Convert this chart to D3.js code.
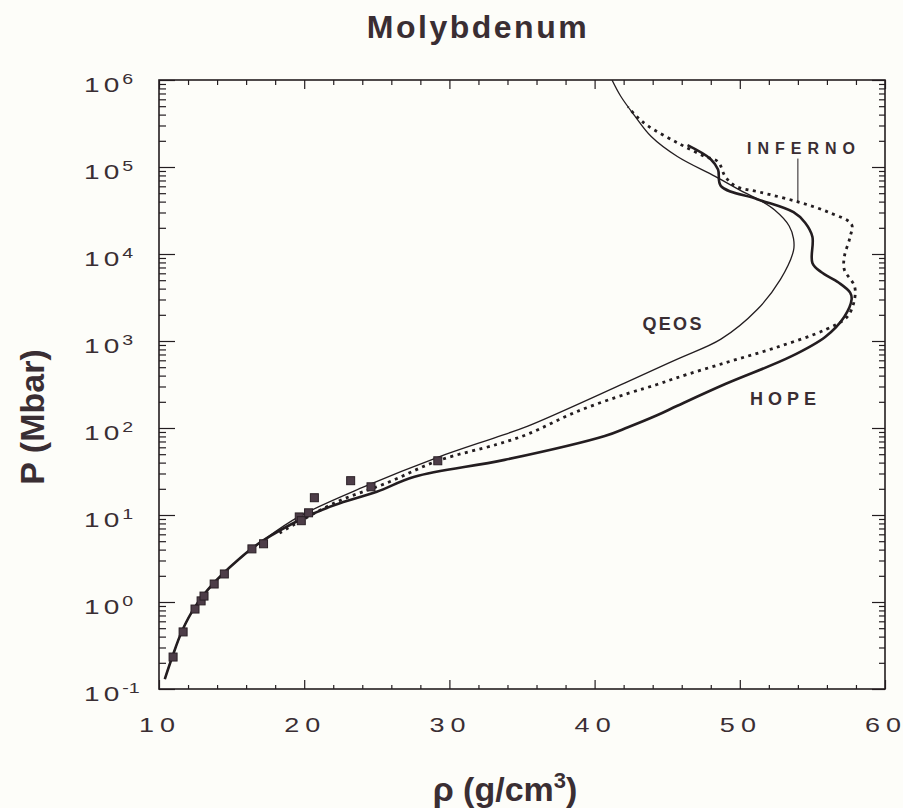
<!DOCTYPE html>
<html>
<head>
<meta charset="utf-8">
<script src="https://cdn.jsdelivr.net/npm/d3@7"></script>
<style>
  body { margin: 0; background: #fdfdf9; }
  svg { display: block; }
  text { font-family: "Liberation Sans", Arial, Helvetica, sans-serif; fill: #3a2e33; }
</style>
</head>
<body>
<svg id="chart" width="903" height="808"></svg>
<script>
// density ticks (g/cm3) and pressure decades (Mbar, as exponents of 10)
const rhoTicks = [10, 20, 30, 40, 50, 60];
const decadeExps = [-1, 0, 1, 2, 3, 4, 5, 6];

// QEOS (thin solid)
const qeosRho = [10.4, 10.9, 11.6, 12.5, 13.7, 15.4, 17.1, 19.6, 24.1, 29.2, 33.3, 35.4, 42.1, 45.7, 48.7, 51.2, 52.8, 53.7, 53.7, 53.4, 52.4, 51.2, 50.3, 48.3, 45.7, 43.9, 42.8, 41.8, 41.2];
const qeosP = [0.13, 0.23, 0.47, 0.89, 1.6, 3.0, 5.0, 9.5, 21, 46, 79, 105, 330, 620, 1050, 2300, 5100, 11000, 15000, 21000, 32000, 43000, 51000, 78000, 132000, 224000, 380000, 650000, 1000000];

// HOPE (thick solid)
const hopeRho = [10.4, 10.9, 11.6, 12.5, 13.7, 15.4, 17.1, 20.0, 22.1, 25.0, 27.6, 33.8, 40.7, 42.3, 44.3, 45.7, 49.0, 53.5, 55.9, 57.2, 57.7, 57.6, 56.8, 55.6, 55.0, 55.0, 54.5, 53.7, 51.2, 48.7, 48.5, 48.0, 46.4];
const hopeP = [0.13, 0.23, 0.47, 0.89, 1.6, 3.0, 5.0, 9.3, 13, 18.5, 27.5, 43, 81, 102, 140, 180, 320, 660, 1120, 1900, 3000, 3600, 4700, 6200, 7900, 15800, 22900, 30200, 42700, 60300, 93300, 123000, 178000];

// INFERNO (dotted)
const infernoRho = [18.3, 22.1, 25.7, 29.2, 33.3, 35.4, 38.8, 42.3, 44.3, 45.7, 49.0, 52.4, 55.9, 57.4, 57.9, 57.9, 57.2, 57.2, 57.6, 57.7, 56.1, 54.0, 51.4, 49.7, 49.0, 48.5, 47.6, 45.7, 43.7, 42.9, 42.3];
const infernoP = [6.2, 13.8, 23.4, 42, 65, 85, 155, 250, 316, 380, 562, 832, 1350, 1900, 3000, 4270, 6600, 9300, 15800, 21900, 30200, 39800, 51300, 60300, 77600, 115000, 132000, 190000, 295000, 380000, 490000];

// experimental points (squares)
const expRho = [10.97, 11.66, 12.48, 12.9, 13.1, 13.8, 14.5, 16.4, 17.2, 19.66, 19.8, 20.3, 20.7, 23.2, 24.6, 29.2];
const expP = [0.233, 0.453, 0.83, 1.03, 1.17, 1.61, 2.10, 4.08, 4.67, 9.5, 8.6, 10.6, 15.8, 24.8, 21.1, 42];

const ink = "#231d20";
const svg = d3.select("#chart");
svg.append("rect").attr("width", 903).attr("height", 808).attr("fill", "#fdfdf9");

const x = d3.scaleLinear().domain([10, 60]).range([159, 885]);
const y = d3.scaleLog().domain([0.1, 1e6]).range([689, 80]);
const [x0, x1] = x.range();
const [y0, y1] = y.range();

const zip = (a, b) => a.map((v, i) => [v, b[i]]);

// minor tick positions
const rhoMinor = d3.range(12, 60, 2).filter((v) => v % 10 !== 0);
const pMajor = decadeExps.map((e) => Math.pow(10, e));
const pMinor = [];
decadeExps.slice(0, -1).forEach((e) => {
  for (let k = 2; k <= 9; k++) pMinor.push(k * Math.pow(10, e));
});

function axisG(transform) {
  return svg.append("g").attr("transform", transform).attr("color", ink);
}
function tidy(g) {
  g.select(".domain").remove();
  g.selectAll("line").attr("stroke-width", 1.2);
}

// bottom / top
axisG(`translate(0,${y0})`).call(d3.axisBottom(x).tickValues(rhoMinor).tickSize(-4).tickFormat("")).call(tidy);
axisG(`translate(0,${y0})`).call(d3.axisBottom(x).tickValues(rhoTicks).tickSize(-9).tickFormat("")).call(tidy);
axisG(`translate(0,${y1})`).call(d3.axisTop(x).tickValues(rhoMinor).tickSize(-5).tickFormat("")).call(tidy);
axisG(`translate(0,${y1})`).call(d3.axisTop(x).tickValues(rhoTicks).tickSize(-9).tickFormat("")).call(tidy);
// left / right
axisG(`translate(${x0},0)`).call(d3.axisLeft(y).tickValues(pMinor).tickSize(-7).tickFormat("")).call(tidy);
axisG(`translate(${x0},0)`).call(d3.axisLeft(y).tickValues(pMajor).tickSize(-16).tickFormat("")).call(tidy);
axisG(`translate(${x1},0)`).call(d3.axisRight(y).tickValues(pMinor).tickSize(-6).tickFormat("")).call(tidy);
axisG(`translate(${x1},0)`).call(d3.axisRight(y).tickValues(pMajor).tickSize(-13).tickFormat("")).call(tidy);

// frame
svg.append("rect")
  .attr("x", x0).attr("y", y1)
  .attr("width", x1 - x0).attr("height", y0 - y1)
  .attr("fill", "none").attr("stroke", ink).attr("stroke-width", 1.6);

// x tick labels (wide, spaced face) - spacing via dx so no trailing gap
const xl = svg.append("g").selectAll("text")
  .data(rhoTicks)
  .join("text")
  .attr("transform", (d) => `translate(${x(d) - 20},${y0 + 43}) scale(1.35,1)`)
  .attr("font-size", 20);
xl.selectAll("tspan")
  .data((d) => String(d).split(""))
  .join("tspan")
  .attr("dx", (c, i) => (i ? 4.5 : 0))
  .text((c) => c);

// y tick labels 10^n
const yl = svg.append("g").selectAll("text")
  .data(decadeExps)
  .join("text")
  .attr("transform", (d) => `translate(84,${y(Math.pow(10, d)) + 12}) scale(1.4,1)`)
  .attr("font-size", 20);
yl.append("tspan").text("1");
yl.append("tspan").attr("dx", 3).text("0");
yl.append("tspan")
  .attr("font-size", 14)
  .attr("dx", 2)
  .attr("dy", -8)
  .text((d) => (d < 0 ? "-" + Math.abs(d) : d));

// curves
svg.append("clipPath").attr("id", "plot")
  .append("rect").attr("x", x0).attr("y", y1).attr("width", x1 - x0).attr("height", y0 - y1);

const line = d3.line()
  .x((d) => x(d[0]))
  .y((d) => y(d[1]))
  .curve(d3.curveCatmullRom.alpha(0.5));

const curves = svg.append("g").attr("clip-path", "url(#plot)").attr("fill", "none");
curves.append("path").attr("d", line(zip(qeosRho, qeosP)))
  .attr("stroke", ink).attr("stroke-width", 1.3);
curves.append("path").attr("d", line(zip(hopeRho, hopeP)))
  .attr("stroke", ink).attr("stroke-width", 2.6).attr("stroke-linejoin", "round");
curves.append("path").attr("d", line(zip(infernoRho, infernoP)))
  .attr("stroke", ink).attr("stroke-width", 2.8).attr("stroke-dasharray", "3,4.5");

// experimental squares
svg.append("g").selectAll("rect")
  .data(zip(expRho, expP))
  .join("rect")
  .attr("x", (d) => x(d[0]) - 4)
  .attr("y", (d) => y(d[1]) - 4)
  .attr("width", 8)
  .attr("height", 8)
  .attr("fill", "#4d3d48")
  .attr("stroke", "#2a2026")
  .attr("stroke-width", 1);

// curve labels
const labels = [
  { text: "QEOS", rho: 43.3, p: 1350, ls: 2.3, size: 18 },
  { text: "HOPE", rho: 50.7, p: 182, ls: 5, size: 18 },
  { text: "INFERNO", rho: 50.5, p: 141000, ls: 6, size: 16 }
];
svg.append("g").selectAll("text")
  .data(labels)
  .join("text")
  .attr("x", (d) => x(d.rho))
  .attr("y", (d) => y(d.p))
  .attr("font-size", (d) => d.size)
  .attr("letter-spacing", (d) => d.ls)
  .attr("font-weight", "bold")
  .attr("fill", "#2e2529")
  .text((d) => d.text);

// leader from INFERNO label to its curve
svg.append("line")
  .attr("x1", x(54.0)).attr("y1", y(125000))
  .attr("x2", x(54.0)).attr("y2", y(40000))
  .attr("stroke", ink).attr("stroke-width", 1);

// titles
svg.append("text")
  .attr("x", 478).attr("y", 38)
  .attr("text-anchor", "middle")
  .attr("font-size", 32).attr("font-weight", "bold")
  .attr("letter-spacing", 2.5)
  .text("Molybdenum");

svg.append("text")
  .attr("transform", "translate(44,417) rotate(-90)")
  .attr("text-anchor", "middle")
  .attr("font-size", 34).attr("font-weight", "bold")
  .text("P (Mbar)");

const xt = svg.append("text")
  .attr("x", 505).attr("y", 801)
  .attr("text-anchor", "middle")
  .attr("font-size", 34).attr("font-weight", "bold");
xt.append("tspan").text("ρ (g/cm");
xt.append("tspan").attr("font-size", 22).attr("dy", -13).text("3");
xt.append("tspan").attr("dy", 13).text(")");
</script>
</body>
</html>
